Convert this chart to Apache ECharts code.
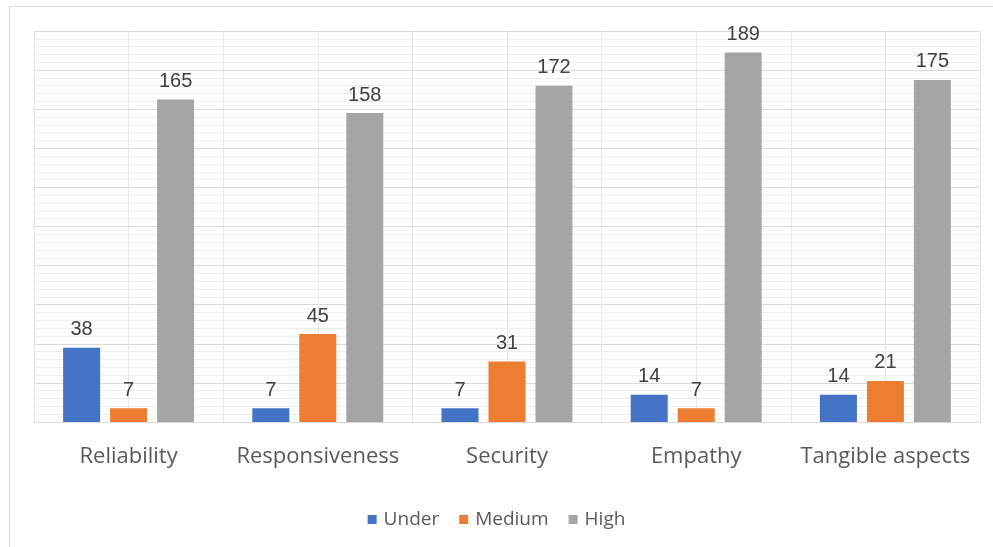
<!DOCTYPE html>
<html><head><meta charset="utf-8">
<script src="https://cdn.jsdelivr.net/npm/echarts@6/dist/echarts.min.js"></script>
<style>html,body{margin:0;padding:0;background:#fff}#c{width:993px;height:547px}</style>
</head><body><div id="c"></div>
<script>
const categories = ['Reliability','Responsiveness','Security','Empathy','Tangible aspects'];
const under = [38, 7, 7, 14, 14];
const medium = [7, 45, 31, 7, 21];
const high = [165, 158, 172, 189, 175];
const halfCats = ['a','b','c','d','e','f','g','h','i','j'];

const chart = echarts.init(document.getElementById('c'));
const lbl = {show:true, position:'top', distance:8, color:'#404040', fontSize:20, fontFamily:'Liberation Sans, Arial'};
chart.setOption({
  animation:false,
  graphic:[{type:'rect', shape:{x:9.5,y:6.5,width:1000,height:560}, style:{fill:'none', stroke:'#d9d9d9', lineWidth:1}, z:-10}],
  grid:{left:34, right:13, top:31, bottom:125},
  legend:{top:505, left:'center', itemWidth:9, itemHeight:9, itemGap:20, icon:'rect',
    textStyle:{color:'#595959', fontSize:19, fontFamily:'Open Sans, Arial', padding:[0,0,0,2]}},
  xAxis:[
    {type:'category', data:categories, axisTick:{show:false},
     axisLine:{lineStyle:{color:'#d9d9d9'}},
     axisLabel:{color:'#595959', fontSize:22, margin:24, fontFamily:'Open Sans, Arial', interval:0},
     splitLine:{show:true, lineStyle:{color:'#d9d9d9'}}},
    {type:'category', data:halfCats, position:'bottom', axisLine:{show:false}, axisTick:{show:false}, axisLabel:{show:false},
     splitLine:{show:true, lineStyle:{color:'#e6e6e6'}}}
  ],
  yAxis:{type:'value', min:0, max:200, interval:20, axisLabel:{show:false}, axisLine:{show:false}, axisTick:{show:false},
    splitLine:{lineStyle:{color:'#d9d9d9'}},
    minorTick:{show:false, splitNumber:5},
    minorSplitLine:{show:true, lineStyle:{color:'#ededed'}}},
  series:[
    {name:'Under', type:'bar', data:under, barWidth:37, barGap:'27%', itemStyle:{color:'#4472C4'}, label:lbl},
    {name:'Medium', type:'bar', data:medium, barWidth:37, barGap:'27%', itemStyle:{color:'#ED7D31'}, label:lbl},
    {name:'High', type:'bar', data:high, barWidth:37, barGap:'27%', itemStyle:{color:'#A5A5A5'}, label:lbl}
  ]
});
</script></body></html>
